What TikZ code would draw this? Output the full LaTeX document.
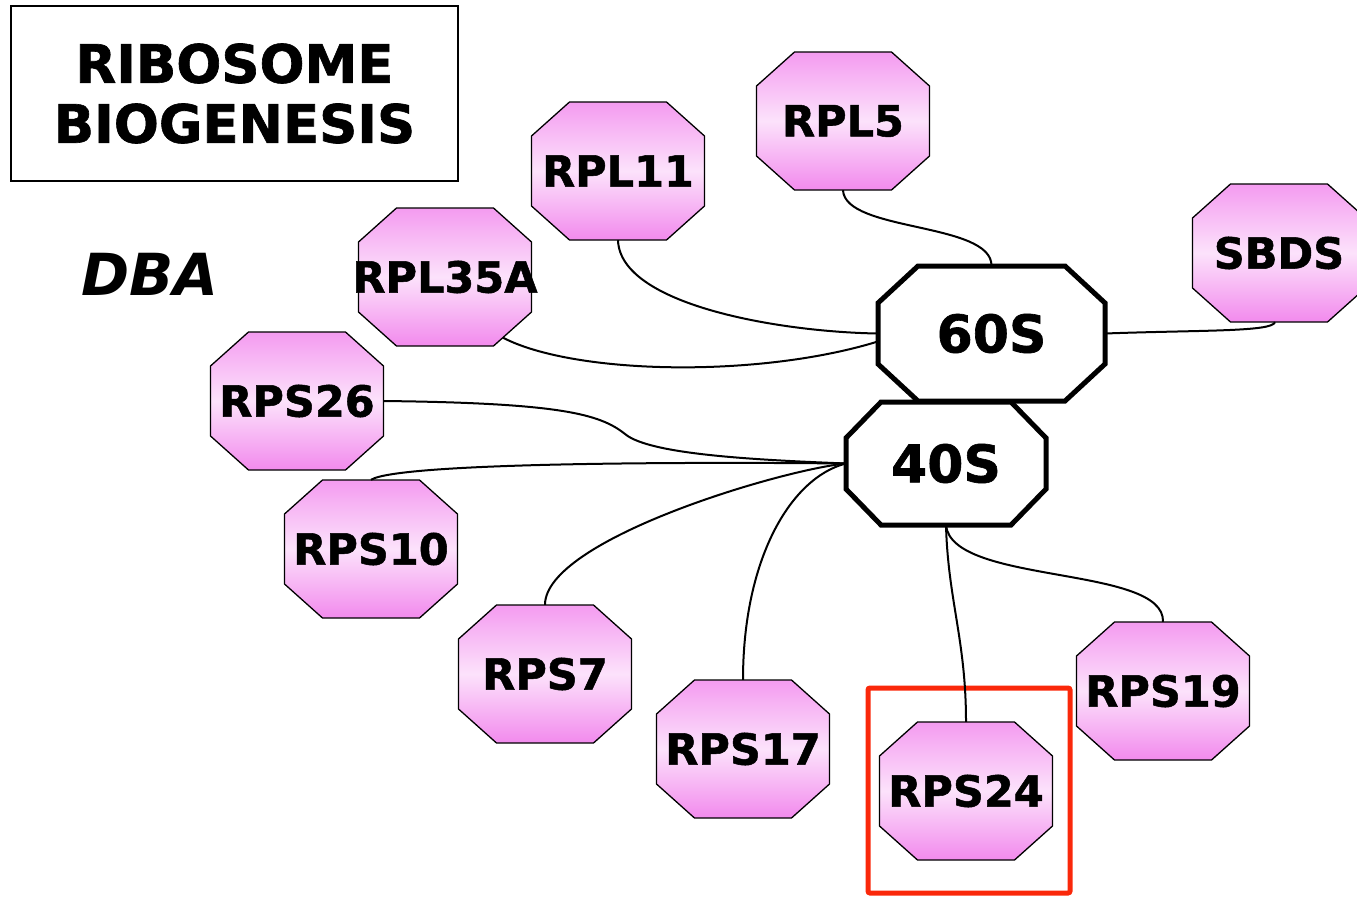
\documentclass[tikz,border=0pt]{standalone}
\usepackage{fontspec}
\setmainfont{DejaVu Sans}[BoldFeatures={FakeBold=1.2}]
\usetikzlibrary{calc}
\definecolor{pinkA}{RGB}{244,155,240}
\definecolor{pinkC}{RGB}{242,138,237}
\definecolor{pinkB}{RGB}{252,226,251}
\definecolor{redbox}{RGB}{250,40,10}
% pink protein octagon: name, x, y, label
\newcommand\pinkoct[4]{%
  \path[octpink] ({#2-48.5},{#3-69}) -- ({#2+48.5},{#3-69}) -- ({#2+86.5},{#3-35}) -- ({#2+86.5},{#3+35})
    -- ({#2+48.5},{#3+69}) -- ({#2-48.5},{#3+69}) -- ({#2-86.5},{#3+35}) -- ({#2-86.5},{#3-35}) -- cycle;
  \node[octlabel, minimum width=173pt, minimum height=138pt] (#1) at (#2,#3) {\makebox[0pt]{#4}};}
% white subunit octagon: name, x, y, half width, half height, chamfer x, chamfer y, label
\newcommand\ribooct[8]{%
  \path[octribo] ({#2-#4+#6},{#3-#5}) -- ({#2+#4-#6},{#3-#5}) -- ({#2+#4},{#3-#5+#7}) -- ({#2+#4},{#3+#5-#7})
    -- ({#2+#4-#6},{#3+#5}) -- ({#2-#4+#6},{#3+#5}) -- ({#2-#4},{#3+#5-#7}) -- ({#2-#4},{#3-#5+#7}) -- cycle;
  \node[ribolabel, minimum width={2*#4}, minimum height={2*#5}] (#1) at (#2,#3) {#8};}
\begin{document}
\begin{tikzpicture}[x=1pt,y=-1pt,
  octpink/.style={draw=black, line width=1.3pt, top color=pinkA, bottom color=pinkC, middle color=pinkB},
  octlabel/.style={inner sep=0pt, font=\fontsize{43}{50}\selectfont\bfseries},
  octribo/.style={draw=black, line width=5pt, fill=white, line join=miter},
  ribolabel/.style={inner sep=0pt, font=\fontsize{52}{60}\selectfont\bfseries},
  link/.style={line width=2pt, black}]
\useasboundingbox (0,0) rectangle (1357,897);

% title and label
\node[draw=black, line width=2pt, minimum width=447pt, minimum height=175pt,
  align=center, font=\fontsize{53}{60}\selectfont\bfseries] (title) at (234.5,93.5) {RIBOSOME\\BIOGENESIS};
\node[font=\fontsize{58}{60}\selectfont\bfseries\itshape] (dba) at (150,274) {DBA};

% central subunits
\ribooct{s40}{946}{463.5}{100}{61.5}{35}{36}{40S}
\ribooct{s60}{991.5}{333.5}{113.5}{67.5}{40}{37}{60S}

% proteins
\pinkoct{rpl5}{843}{121}{RPL5}
\pinkoct{rpl11}{618}{171}{RPL11}
\pinkoct{rpl35a}{445}{277}{RPL35A}
\pinkoct{sbds}{1279}{253}{SBDS}
\pinkoct{rps26}{297}{401}{RPS26}
\pinkoct{rps10}{371}{549}{RPS10}
\pinkoct{rps7}{545}{674}{RPS7}
\pinkoct{rps17}{743}{749}{RPS17}
\pinkoct{rps24}{966}{791}{RPS24}
\pinkoct{rps19}{1163}{691}{RPS19}

% highlight
\node[draw=redbox, line width=5pt, rounded corners=2pt, minimum width=202pt, minimum height=205pt] (hl) at (969,790.5) {};

% connectors to 60S
\draw[link] (rpl5.south) .. controls (845,232) and (992,222) .. (s60.north);
\draw[link] (rpl11.south) .. controls (620,305) and (780,332) .. (s60.west);
\draw[link] ($(rpl35a.south)+(58,-8.5)$) .. controls (575,375) and (760,378) .. ($(s60.west)+(0,8)$);
\draw[link] (s60.east) .. controls (1200,330) and (1272,332) .. ($(sbds.south)+(-4,0)$);

% connectors to 40S
\draw[link] (rps26.east) .. controls (560,403) and (600,414) .. (625,434)
  .. controls (650,455) and (760,460) .. (s40.west);
\draw[link] (rps10.north) .. controls (400,462) and (700,462) .. (s40.west);
\draw[link] (rps7.north) .. controls (545,540) and (780,470) .. (s40.west);
\draw[link] (rps17.north) .. controls (743,560) and (790,478) .. (s40.west);
\draw[link] (s40.south) .. controls (948,600) and (966,640) .. (rps24.north);
\draw[link] (s40.south) .. controls (952,585) and (1165,565) .. (rps19.north);
\end{tikzpicture}
\end{document}
